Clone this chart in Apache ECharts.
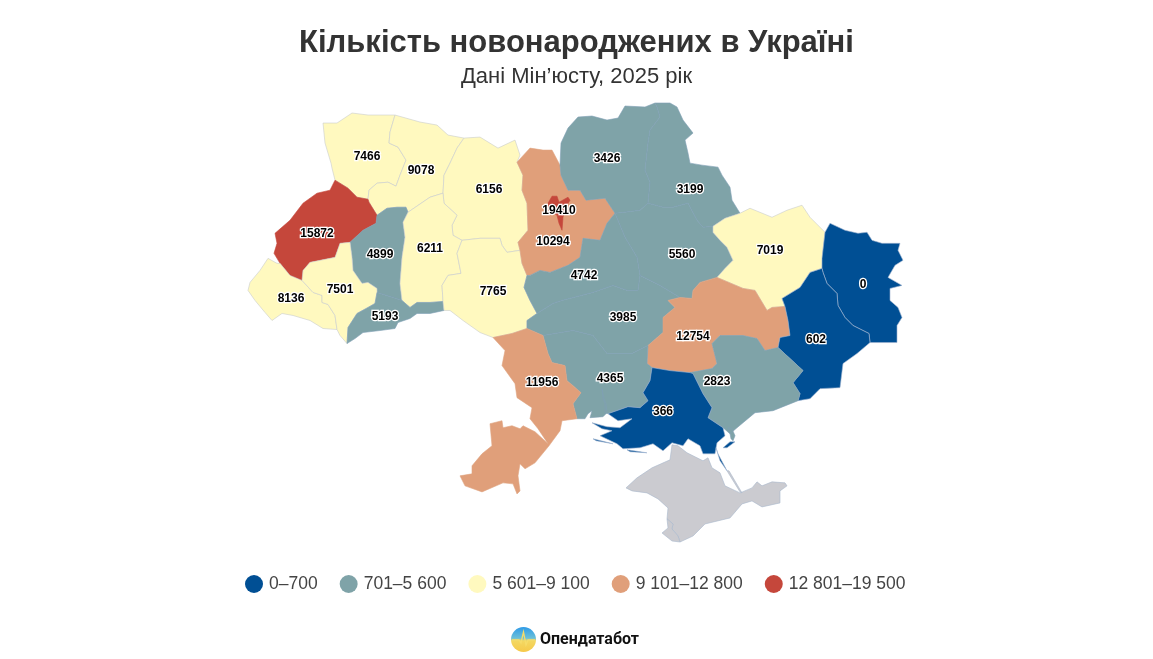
<!DOCTYPE html>
<html>
<head>
<meta charset="utf-8">
<style>
html, body { margin: 0; padding: 0; background: #fff; }
#main { width: 1153px; height: 659px; }
</style>
<script src="https://cdn.jsdelivr.net/npm/echarts@6/dist/echarts.min.js"></script>
</head>
<body>
<div id="main"></div>
<script>
var myChart = echarts.init(document.getElementById('main'));

const titleText = 'Кількість новонароджених в Україні';
const subtitleText = 'Дані Мін’юсту, 2025 рік';
const sourceText = 'Опендатабот';

const regionNames = ['Волинська', 'Рівненська', 'Житомирська', 'Львівська', 'Тернопільська', 'Хмельницька', 'Закарпатська', 'Івано-Франківська', 'Чернівецька', 'Вінницька', 'Київська', 'Київ', 'Чернігівська', 'Сумська', 'Полтавська', 'Харківська', 'Луганська', 'Черкаська', 'Кіровоградська', 'Дніпропетровська', 'Донецька', 'Запорізька', 'Миколаївська', 'Херсонська', 'Одеська'];
const births = [7466, 9078, 6156, 15872, 4899, 6211, 8136, 7501, 5193, 7765, 10294, 19410, 3426, 3199, 5560, 7019, 0, 4742, 3985, 12754, 602, 2823, 4365, 366, 11956];

const classLabels = ['0–700', '701–5 600', '5 601–9 100', '9 101–12 800', '12 801–19 500'];
const classMin = [0, 701, 5601, 9101, 12801];
const classMax = [700, 5600, 9100, 12800, 19500];
const classColors = ['#004f94', '#7fa3a8', '#fff9bf', '#e09f7a', '#c5473b'];
const classBorders = ['#9fb4d0', '#7f9fb6', '#c9cccf', '#dfa481', '#c5473b'];

// контури областей, обведені з картинки
const shapes = {
  'Волинська': [[[323,123],[337,123],[352,113],[368,115],[395,115],[390,132],[389,143],[398,147],[406,160],[400,175],[396,186],[388,182],[377,183],[369,190],[368,199],[357,197],[348,188],[335,180],[332,168],[331,163],[325,143]]],
  'Рівненська': [[[395,115],[420,122],[437,125],[448,135],[464,138],[457,148],[450,163],[444,175],[443,193],[430,197],[408,212],[406,207],[397,207],[387,208],[377,215],[369,202],[368,199],[369,190],[377,183],[388,182],[396,186],[400,175],[406,160],[398,147],[389,143],[390,132]]],
  'Житомирська': [[[464,138],[480,137],[498,148],[515,140],[520,155],[517,162],[523,175],[522,190],[527,203],[528,230],[518,242],[520,250],[507,252],[502,245],[500,238],[480,238],[462,240],[453,235],[452,225],[457,215],[444,203],[443,193],[444,175],[450,163],[457,148]]],
  'Львівська': [[[335,180],[348,188],[357,197],[368,199],[369,202],[377,215],[376,223],[363,230],[350,242],[340,243],[335,257],[310,262],[303,270],[302,280],[290,275],[280,263],[274,253],[277,243],[275,233],[290,220],[303,203],[317,193],[330,190]]],
  'Тернопільська': [[[397,207],[406,207],[408,212],[403,222],[405,237],[402,257],[400,283],[402,300],[393,297],[380,293],[377,292],[377,288],[368,282],[362,283],[353,270],[352,257],[350,242],[363,230],[376,223],[377,215],[387,208]]],
  'Хмельницька': [[[408,212],[430,197],[443,193],[444,203],[457,215],[452,225],[453,235],[462,240],[457,253],[461,273],[448,275],[442,285],[443,301],[430,302],[417,302],[410,307],[402,300],[400,283],[402,257],[405,237],[403,222]]],
  'Закарпатська': [[[268,258],[277,263],[280,263],[290,275],[302,280],[313,292],[322,295],[322,302],[328,304],[335,315],[337,329],[323,328],[310,320],[293,315],[282,313],[272,320],[265,312],[255,300],[248,290],[250,282],[260,270]]],
  'Івано-Франківська': [[[302,280],[303,270],[310,262],[335,257],[340,243],[350,242],[352,257],[353,270],[362,283],[368,282],[377,288],[377,292],[375,303],[368,307],[357,313],[348,327],[347,343],[340,335],[337,329],[335,315],[328,304],[322,302],[322,295],[313,292]]],
  'Чернівецька': [[[377,292],[380,293],[393,297],[402,300],[410,307],[417,302],[430,302],[443,301],[444,310],[430,313],[417,313],[410,318],[398,322],[395,328],[380,330],[363,332],[355,338],[347,343],[348,327],[357,313],[368,307],[375,303]]],
  'Вінницька': [[[462,240],[480,238],[500,238],[502,245],[507,252],[520,250],[522,263],[527,275],[524,287],[530,300],[537,313],[527,320],[527,328],[512,333],[493,337],[480,332],[463,320],[450,310],[444,310],[443,301],[442,285],[448,275],[461,273],[457,253]]],
  'Київська': [[[517,162],[530,148],[543,150],[552,150],[560,165],[561,175],[568,190],[580,190],[586,200],[605,198],[615,213],[607,223],[600,240],[583,238],[580,257],[568,265],[550,272],[540,270],[530,275],[527,275],[522,263],[520,250],[518,242],[528,230],[527,203],[522,190],[523,175]]],
  'Київ': [[[548,203],[552,196],[557,196],[559,202],[568,197],[570,200],[565,208],[563,217],[562,230],[559,223],[557,215],[550,210]]],
  'Чернігівська': [[[560,165],[561,143],[568,128],[578,117],[592,116],[607,120],[618,118],[625,106],[645,107],[655,103],[657,107],[660,117],[650,130],[648,143],[645,170],[650,182],[648,203],[640,210],[625,212],[615,213],[605,198],[586,200],[580,190],[568,190],[561,175]]],
  'Сумська': [[[655,103],[670,103],[677,107],[683,120],[693,133],[685,140],[688,153],[690,163],[702,165],[718,167],[722,175],[730,187],[732,200],[740,213],[725,218],[713,226],[703,227],[697,220],[688,203],[673,207],[663,207],[648,203],[650,182],[645,170],[648,143],[650,130],[660,117],[657,107]]],
  'Полтавська': [[[615,213],[625,212],[640,210],[648,203],[663,207],[673,207],[688,203],[697,220],[703,227],[713,226],[713,232],[720,240],[727,247],[733,260],[725,268],[717,277],[700,282],[693,290],[692,298],[680,297],[660,285],[640,275],[637,257],[625,237]]],
  'Харківська': [[[713,226],[725,218],[740,213],[750,208],[772,217],[787,210],[802,205],[810,217],[825,232],[823,250],[822,268],[810,272],[800,287],[782,298],[785,306],[772,307],[767,310],[755,290],[743,288],[717,277],[725,268],[733,260],[727,247],[720,240],[713,232]]],
  'Луганська': [[[822,268],[822,258],[825,232],[830,223],[845,230],[858,233],[867,232],[872,240],[882,243],[900,243],[898,250],[903,260],[895,265],[888,277],[902,285],[890,288],[890,300],[898,307],[902,317],[897,325],[897,342],[870,342],[869,333],[853,325],[845,317],[838,305],[837,293],[827,283],[823,272]]],
  'Черкаська': [[[530,275],[540,270],[550,272],[568,265],[580,257],[583,238],[600,240],[607,223],[615,213],[625,237],[637,257],[640,275],[638,290],[627,290],[613,285],[593,292],[562,300],[553,303],[537,313],[530,300],[524,287],[527,275]]],
  'Кіровоградська': [[[537,313],[553,303],[562,300],[593,292],[613,285],[627,290],[638,290],[640,275],[660,285],[680,297],[668,300],[675,307],[663,317],[663,332],[648,345],[632,353],[607,353],[593,335],[573,330],[543,335],[527,328],[527,320]]],
  'Дніпропетровська': [[[692,298],[693,290],[700,282],[717,277],[743,288],[755,290],[767,310],[772,307],[785,306],[788,320],[790,335],[780,337],[778,347],[765,350],[757,338],[743,335],[720,335],[712,343],[717,363],[712,368],[690,372],[670,370],[652,367],[647,363],[648,345],[663,332],[663,317],[675,307],[668,300],[680,297]]],
  'Донецька': [[[822,268],[810,272],[800,287],[782,298],[785,306],[788,320],[790,335],[780,337],[778,347],[803,370],[793,382],[800,393],[798,400],[810,398],[820,388],[840,387],[843,363],[857,353],[870,342],[869,333],[853,325],[845,317],[838,305],[837,293],[827,283],[823,272]]],
  'Запорізька': [[[690,372],[712,368],[717,363],[712,343],[720,335],[743,335],[757,338],[765,350],[778,347],[803,370],[793,382],[800,393],[798,400],[773,410],[755,412],[737,427],[730,433],[723,427],[708,417],[712,407],[703,393],[693,373]], [[730,433],[728,427],[732,428],[735,435],[733,440],[731,438]]],
  'Миколаївська': [[[543,335],[573,330],[593,335],[607,353],[632,353],[648,345],[647,363],[652,367],[650,380],[643,392],[648,400],[640,407],[628,406],[608,413],[605,412],[605,403],[603,398],[602,388],[604,398],[606,403],[607,412],[603,416],[590,417],[592,410],[588,413],[585,418],[577,418],[573,403],[581,392],[573,385],[567,380],[565,365],[552,362],[548,353]]],
  'Херсонська': [[[652,367],[650,380],[643,392],[648,400],[640,407],[628,406],[608,413],[618,420],[632,418],[620,427],[607,426],[592,422],[602,428],[612,430],[600,435],[617,443],[623,448],[640,447],[653,443],[663,450],[672,442],[683,445],[688,438],[700,445],[703,453],[715,453],[717,442],[725,435],[723,427],[708,417],[712,407],[703,393],[693,373],[690,372],[670,370]], [[593,438],[613,443],[596,440]], [[627,449],[647,452],[630,451]], [[716,447],[720,460],[727,470],[718,453]], [[723,447],[730,441],[735,441],[727,447]]],
  'Одеська': [[[493,337],[512,333],[527,328],[543,335],[548,353],[552,362],[565,365],[567,380],[573,385],[581,392],[573,403],[577,418],[562,420],[560,430],[549,445],[535,462],[525,468],[520,463],[518,475],[520,490],[517,493],[513,483],[503,482],[482,491],[465,485],[460,475],[472,473],[472,465],[482,453],[492,445],[490,423],[502,420],[503,427],[512,425],[520,428],[523,425],[535,431],[548,443],[538,428],[530,418],[532,407],[517,397],[515,383],[502,365],[505,350]]],
  'Крим': [[[626,487],[637,477],[652,467],[670,459],[672,444],[678,445],[687,452],[697,457],[703,460],[708,457],[712,467],[720,472],[725,485],[740,492],[752,487],[757,481],[762,485],[772,481],[785,482],[787,485],[780,490],[780,502],[762,506],[752,500],[742,503],[730,517],[705,523],[693,535],[680,541],[678,535],[672,528],[673,523],[667,518],[668,507],[658,498],[647,492],[632,490]], [[727,470],[740,491],[742,492],[729,470]]],
  'Севастополь': [[[667,518],[673,523],[672,528],[678,535],[680,541],[672,540],[662,532],[668,527]]]
};

// де стоять підписи
const labelAt = {
  'Волинська': [367,157], 'Рівненська': [421,171], 'Житомирська': [489,189], 'Львівська': [317,233],
  'Тернопільська': [380,254], 'Хмельницька': [430,248], 'Закарпатська': [291,298], 'Івано-Франківська': [340,289],
  'Чернівецька': [385,316], 'Вінницька': [493,291], 'Київська': [553,241], 'Київ': [559,210],
  'Чернігівська': [607,159], 'Сумська': [690,189], 'Полтавська': [682,254], 'Харківська': [770,250],
  'Луганська': [863,284], 'Черкаська': [584,275], 'Кіровоградська': [623,317], 'Дніпропетровська': [693,336],
  'Донецька': [816,339], 'Запорізька': [717,381], 'Миколаївська': [610,378], 'Херсонська': [663,411], 'Одеська': [542,382]
};

const features = Object.keys(shapes).map((name) => {
  return {
    type: 'Feature',
    properties: { name: name, cp: labelAt[name] },
    geometry: { type: 'MultiPolygon', coordinates: shapes[name].map((ring) => [ring]) }
  };
});
echarts.registerMap('ukraine', { type: 'FeatureCollection', features: features });

// колір межі залежить від класу області
function borderOf(value) {
  const i = classMax.findIndex((max) => value <= max);
  return classBorders[i];
}

const option = {
  backgroundColor: '#fff',
  animation: false,
  title: {
    text: titleText,
    subtext: subtitleText,
    left: 'center',
    top: 23,
    itemGap: 7,
    textStyle: { fontFamily: 'Liberation Sans', fontSize: 31, fontWeight: 'bold', color: '#333' },
    subtextStyle: { fontFamily: 'Liberation Sans', fontSize: 22, color: '#333' }
  },
  visualMap: {
    type: 'piecewise',
    orient: 'horizontal',
    left: 245,
    top: 575,
    padding: 0,
    itemWidth: 18,
    itemHeight: 18,
    itemGap: 22,
    textGap: 6,
    itemSymbol: 'circle',
    selectedMode: false,
    hoverLink: false,
    textStyle: { fontFamily: 'Liberation Sans', fontSize: 17.5, color: '#444' },
    pieces: classLabels.map((label, i) => ({
      min: classMin[i],
      max: classMax[i],
      label: label,
      color: classColors[i]
    }))
  },
  series: [{
    type: 'map',
    map: 'ukraine',
    projection: {
      project: (p) => p,
      unproject: (p) => p
    },
    left: 248,
    top: 103,
    width: 655,
    height: 439,
    roam: false,
    silent: true,
    selectedMode: false,
    itemStyle: { areaColor: '#cbcbd0', borderColor: '#a9b8cc', borderWidth: 0.6 },
    label: {
      show: true,
      fontFamily: 'Liberation Sans',
      fontSize: 12,
      fontWeight: 'bold',
      color: '#000',
      textBorderColor: '#fff',
      textBorderWidth: 2.5,
      formatter: (p) => (isNaN(p.value) ? '' : String(p.value))
    },
    data: regionNames.map((name, i) => ({
      name: name,
      value: births[i],
      itemStyle: { borderColor: borderOf(births[i]) }
    }))
  }],
  graphic: [
    {
      type: 'circle',
      shape: { cx: 523.5, cy: 639.5, r: 12.5 },
      style: {
        fill: new echarts.graphic.LinearGradient(0, 0, 0, 1, [
          { offset: 0, color: '#2f9be8' },
          { offset: 0.45, color: '#6cc0d8' },
          { offset: 0.55, color: '#f3d862' },
          { offset: 1, color: '#f6c94a' }
        ])
      }
    },
    {
      type: 'polyline',
      shape: { points: [[512, 640], [519, 640], [521, 643], [523.5, 632], [526, 645], [528, 640], [535, 640]] },
      style: { stroke: '#f6dc6a', lineWidth: 1.3, fill: null }
    },
    {
      type: 'text',
      left: 540,
      top: 632,
      style: { text: sourceText, fontFamily: 'Roboto', fontWeight: 'bold', fontSize: 16, fill: '#111' }
    }
  ]
};

myChart.setOption(option);
</script>
</body>
</html>
